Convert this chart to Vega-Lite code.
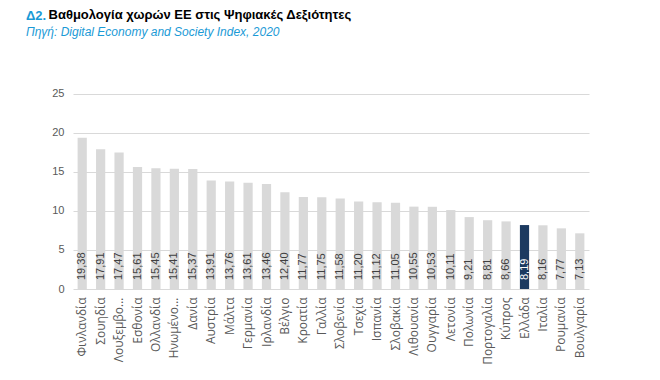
{
  "$schema": "https://vega.github.io/schema/vega-lite/v6.json",
  "width": 516,
  "height": 203,
  "autosize": "none",
  "padding": {"left": 73, "top": 86, "right": 71, "bottom": 91},
  "background": "white",
  "config": {
    "locale": {"number": {"decimal": ",", "thousands": ".", "grouping": [3], "currency": ["", " €"]}},
    "view": {"stroke": null}
  },
  "title": {
    "text": "Δ2.",
    "anchor": "start",
    "frame": "group",
    "dx": -47,
    "offset": -30,
    "font": "Liberation Sans",
    "fontSize": 13,
    "fontWeight": "bold",
    "color": "#1a9ad6",
    "subtitle": "Πηγή: Digital Economy and Society Index, 2020",
    "subtitleFont": "Liberation Sans",
    "subtitleFontSize": 12,
    "subtitleFontStyle": "italic",
    "subtitleColor": "#1a9ad6",
    "subtitlePadding": 4
  },
  "data": {
    "values": [
      {"country": "Φινλανδία", "value": 19.38},
      {"country": "Σουηδία", "value": 17.91},
      {"country": "Λουξεμβο...", "value": 17.47},
      {"country": "Εσθονία", "value": 15.61},
      {"country": "Ολλανδία", "value": 15.45},
      {"country": "Ηνωμένο...", "value": 15.41},
      {"country": "Δανία", "value": 15.37},
      {"country": "Αυστρία", "value": 13.91},
      {"country": "Μάλτα", "value": 13.76},
      {"country": "Γερμανία", "value": 13.61},
      {"country": "Ιρλανδία", "value": 13.46},
      {"country": "Βέλγιο", "value": 12.40},
      {"country": "Κροατία", "value": 11.77},
      {"country": "Γαλλία", "value": 11.75},
      {"country": "Σλοβενία", "value": 11.58},
      {"country": "Τσεχία", "value": 11.20},
      {"country": "Ισπανία", "value": 11.12},
      {"country": "Σλοβακία", "value": 11.05},
      {"country": "Λιθουανία", "value": 10.55},
      {"country": "Ουγγαρία", "value": 10.53},
      {"country": "Λετονία", "value": 10.11},
      {"country": "Πολωνία", "value": 9.21},
      {"country": "Πορτογαλία", "value": 8.81},
      {"country": "Κύπρος", "value": 8.66},
      {"country": "Ελλάδα", "value": 8.19},
      {"country": "Ιταλία", "value": 8.16},
      {"country": "Ρουμανία", "value": 7.77},
      {"country": "Βουλγαρία", "value": 7.13}
    ]
  },
  "encoding": {
    "x": {
      "field": "country",
      "type": "nominal",
      "sort": null,
      "scale": {"paddingInner": 0.5, "paddingOuter": 0.25},
      "axis": {
        "title": null,
        "labelAngle": -90,
        "labelAlign": "right",
        "labelBaseline": "middle",
        "labelFont": "Open Sans",
        "labelFontSize": 12,
        "labelColor": "#595959",
        "labelPadding": 8,
        "labelLimit": 200,
        "ticks": false,
        "domain": false
      }
    }
  },
  "layer": [
    {
      "mark": {"type": "bar"},
      "encoding": {
        "y": {
          "field": "value",
          "type": "quantitative",
          "scale": {"domain": [0, 25]},
          "axis": {
            "values": [0, 5, 10, 15, 20, 25],
            "grid": true,
            "gridColor": "#d9d9d9",
            "gridWidth": 1.2,
            "domain": false,
            "ticks": false,
            "labelFont": "Liberation Sans",
            "labelFontSize": 11,
            "labelColor": "#595959",
            "labelPadding": 9,
            "title": "Βαθμολογία χωρών ΕΕ στις Ψηφιακές Δεξιότητες",
            "titleAngle": 0,
            "titleAlign": "left",
            "titleBaseline": "alphabetic",
            "titleX": -25,
            "titleY": -68,
            "titleFont": "Liberation Sans",
            "titleFontSize": 13,
            "titleFontWeight": "bold",
            "titleColor": "#000000"
          }
        },
        "color": {
          "condition": {"test": "datum.country === 'Ελλάδα'", "value": "#1c3a60"},
          "value": "#d9d9d9"
        }
      }
    },
    {
      "mark": {"type": "text", "angle": 270, "align": "left", "baseline": "middle", "dx": 9, "font": "Liberation Sans", "fontSize": 11},
      "encoding": {
        "y": {"datum": 0, "type": "quantitative"},
        "text": {"field": "value", "type": "quantitative", "format": ".2f"},
        "color": {
          "condition": {"test": "datum.country === 'Ελλάδα'", "value": "#ffffff"},
          "value": "#404040"
        }
      }
    }
  ]
}
